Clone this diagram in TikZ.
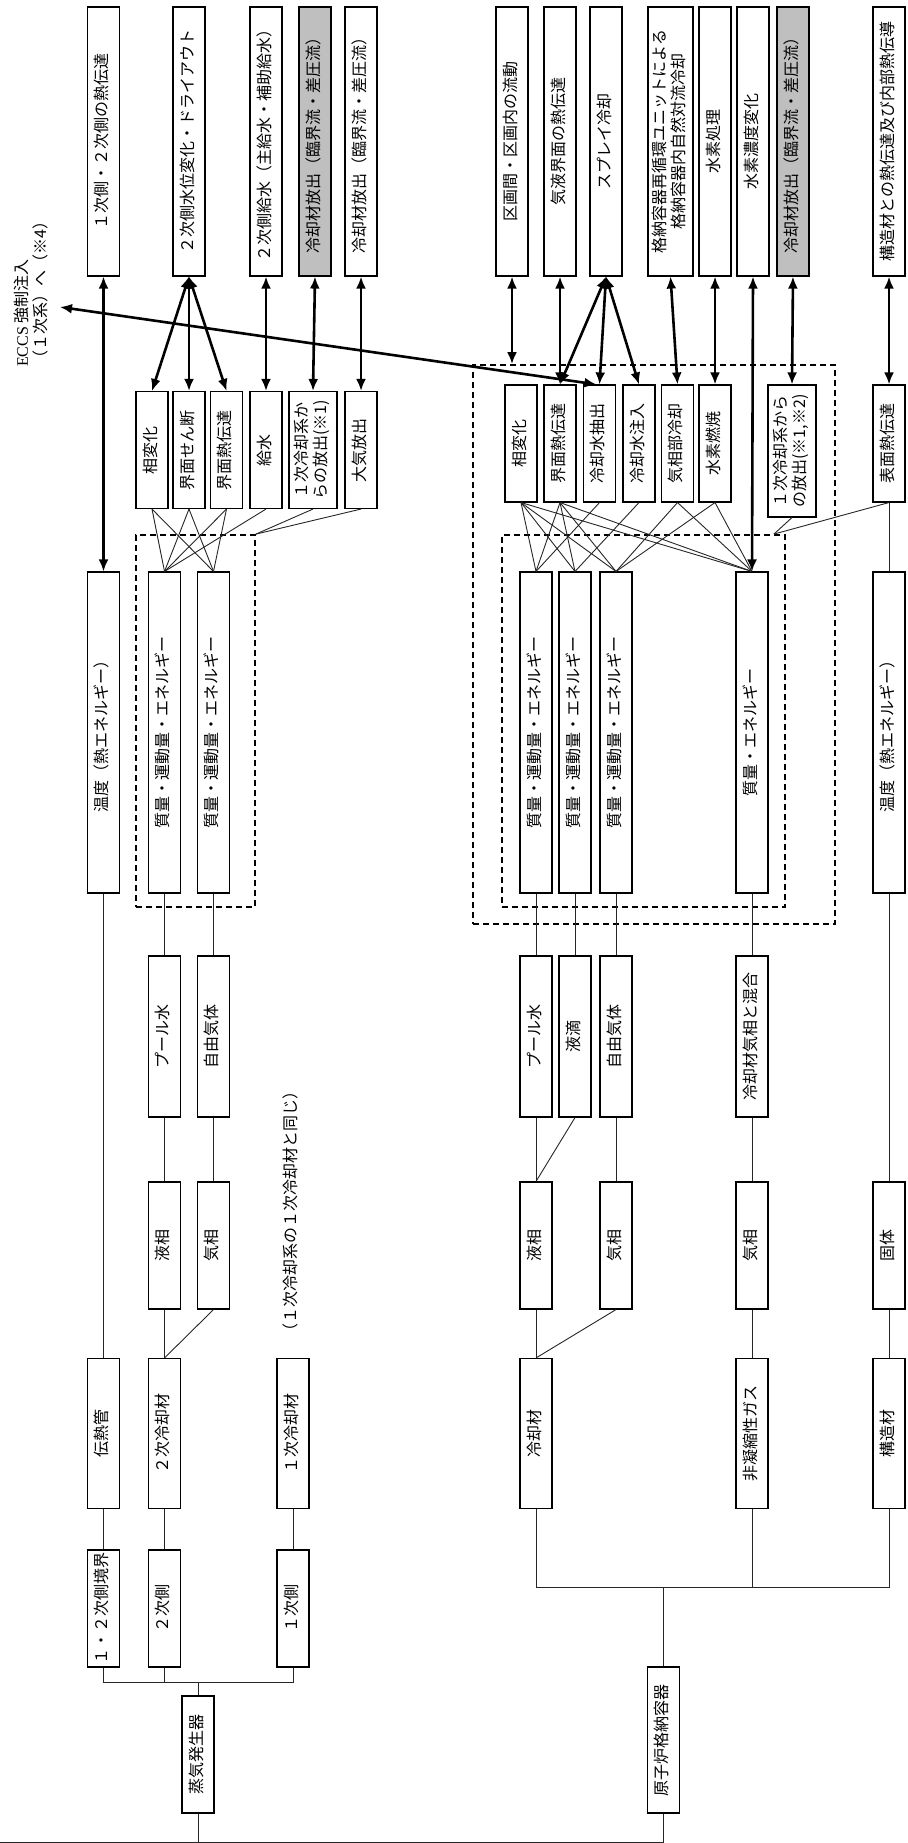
\documentclass[tikz,border=0pt]{standalone}
\usepackage{fontspec}
\setmainfont{Noto Sans CJK JP}
\newfontfamily\latinserif{Liberation Serif}
\usepackage{graphicx}
\usetikzlibrary{arrows.meta}

% text standing on its side, read from bottom to top
\newcommand{\vtext}[2][c]{\rotatebox{90}{\begin{tabular}{@{}#1@{}}#2\end{tabular}}}

\begin{document}
\begin{tikzpicture}[x=1pt,y=-1pt]
\tikzstyle{box} = [draw, line width=1.1pt, rectangle, fill=white, minimum width=32pt,
inner sep=0pt, font=\fontsize{16}{17}\selectfont]
\tikzstyle{shade} = [box, fill=black!25]
\tikzstyle{hTop} = [minimum height=269pt]
\tikzstyle{hProc} = [minimum height=117pt]
\tikzstyle{hLong} = [minimum height=321pt]
\tikzstyle{hMid} = [minimum height=161pt]
\tikzstyle{hPhase} = [minimum height=127pt]
\tikzstyle{hBase} = [minimum height=150pt]
\tikzstyle{hSide} = [minimum height=117pt]
\tikzstyle{dashbox} = [draw, line width=1.8pt, dash pattern=on 6pt off 4pt, inner sep=0pt]
\tikzstyle{link} = [draw, line width=0.9pt, black!85]
\tikzstyle{arr} = [draw, line width=2.6pt, {Latex[length=12pt,width=10pt]}-{Latex[length=12pt,width=10pt]}]
\useasboundingbox (0,0) rectangle (907,1843);

% groups
\node[dashbox, minimum width=119pt, minimum height=372pt] (grpL) at (195.5,721) {};
\node[dashbox, minimum width=362pt, minimum height=559pt] (grpOut) at (654,644.5) {};
\node[dashbox, minimum width=283pt, minimum height=372pt] (grpIn) at (643.5,721) {};

% row 1: phenomena, steam generator side
\node[box,hTop] (A1) at (103.5,141.5) {\vtext{１次側・２次側の熱伝達}};
\node[box,hTop] (A2) at (189,141.5) {\vtext{２次側水位変化・ドライアウト}};
\node[box,hTop] (A3) at (266,141.5) {\vtext{２次側給水（主給水・補助給水）}};
\node[shade,hTop] (A4) at (315,141.5) {\vtext{冷却材放出（臨界流・差圧流）}};
\node[box,hTop] (A5) at (361,141.5) {\vtext{冷却材放出（臨界流・差圧流）}};
% row 1: phenomena, containment side
\node[box,hTop] (B1) at (512,141.5) {\vtext{区画間・区画内の流動}};
\node[box,hTop] (B2) at (560,141.5) {\vtext{気液界面の熱伝達}};
\node[box,hTop] (B3) at (606,141.5) {\vtext{スプレイ冷却}};
\node[box,hTop,minimum width=45pt] (B4) at (670.5,141.5) {\vtext{格納容器再循環ユニットによる\\格納容器内自然対流冷却}};
\node[box,hTop] (B5) at (715,141.5) {\vtext{水素処理}};
\node[box,hTop] (B6) at (753,141.5) {\vtext{水素濃度変化}};
\node[shade,hTop] (B7) at (793,141.5) {\vtext{冷却材放出（臨界流・差圧流）}};
\node[box,hTop] (B8) at (889,141.5) {\vtext{構造材との熱伝達及び内部熱伝導}};

\node[inner sep=0pt, anchor=south, font=\fontsize{16}{17}\selectfont] (eccs) at (33,367) {\vtext[l]{{\latinserif ECCS} 強制注入\\（１次系）へ（※4）}};
\coordinate (eccsEnd) at (60,307);

% row 2: processes
\node[box,hProc] (L1) at (152,450) {\vtext{相変化}};
\node[box,hProc] (L2) at (189,450) {\vtext{界面せん断}};
\node[box,hProc] (L3) at (226.5,450) {\vtext{界面熱伝達}};
\node[box,hProc] (L4) at (266,450) {\vtext{給水}};
\node[box,hProc,minimum width=48pt] (L5) at (313,450) {\vtext{１次冷却系か\\らの放出(※1)}};
\node[box,hProc] (L6) at (361,450) {\vtext{大気放出}};
\node[box,hProc] (P1) at (521,443.5) {\vtext{相変化}};
\node[box,hProc] (P2) at (560,443.5) {\vtext{界面熱伝達}};
\node[box,hProc] (P3) at (599.5,443.5) {\vtext{冷却水抽出}};
\node[box,hProc] (P4) at (639,443.5) {\vtext{冷却水注入}};
\node[box,hProc] (P5) at (677.5,443.5) {\vtext{気相部冷却}};
\node[box,hProc] (P6) at (715,443.5) {\vtext{水素燃焼}};
\node[box,minimum width=48pt,minimum height=132pt] (P7) at (792,451) {\vtext{１次冷却系から\\の放出(※1,※2)}};
\node[box,hProc] (SH) at (889,443.5) {\vtext{表面熱伝達}};

% row 3: conserved quantities
\node[box,hLong] (T1) at (103.5,732.5) {\vtext{温度（熱エネルギー）}};
\node[box,hLong] (M1) at (164.5,732.5) {\vtext{質量・運動量・エネルギー}};
\node[box,hLong] (M2) at (213.5,732.5) {\vtext{質量・運動量・エネルギー}};
\node[box,hLong] (R1) at (536,732.5) {\vtext{質量・運動量・エネルギー}};
\node[box,hLong] (R2) at (575,732.5) {\vtext{質量・運動量・エネルギー}};
\node[box,hLong] (R3) at (616,732.5) {\vtext{質量・運動量・エネルギー}};
\node[box,hLong] (R4) at (752,732.5) {\vtext{質量・エネルギー}};
\node[box,hLong] (T2) at (889,732.5) {\vtext{温度（熱エネルギー）}};

% row 4
\node[box,hMid] (W1) at (164.5,1036.5) {\vtext{プール水}};
\node[box,hMid] (G1) at (213.5,1036.5) {\vtext{自由気体}};
\node[box,hMid] (W2) at (536,1036.5) {\vtext{プール水}};
\node[box,hMid] (D2) at (575,1036.5) {\vtext{液滴}};
\node[box,hMid] (G2) at (616,1036.5) {\vtext{自由気体}};
\node[box,hMid] (Mix) at (752,1036.5) {\vtext{冷却材気相と混合}};

% row 5
\node[box,hPhase] (Lq1) at (164.5,1245.5) {\vtext{液相}};
\node[box,hPhase] (Gp1) at (213.5,1245.5) {\vtext{気相}};
\node[inner sep=0pt, font=\fontsize{16}{17}\selectfont] (note) at (292,1211) {\vtext{（１次冷却系の１次冷却材と同じ）}};
\node[box,hPhase] (Lq2) at (536,1245.5) {\vtext{液相}};
\node[box,hPhase] (Gp2) at (616,1245.5) {\vtext{気相}};
\node[box,hPhase] (Gp3) at (752,1245.5) {\vtext{気相}};
\node[box,hPhase] (Solid) at (889,1245.5) {\vtext{固体}};

% row 6
\node[box,hBase] (Tube) at (103.5,1433.5) {\vtext{伝熱管}};
\node[box,hBase] (C2) at (164.5,1433.5) {\vtext{２次冷却材}};
\node[box,hBase] (C1) at (293,1433.5) {\vtext{１次冷却材}};
\node[box,hBase] (Cool) at (536,1433.5) {\vtext{冷却材}};
\node[box,hBase] (NCG) at (752,1433.5) {\vtext{非凝縮性ガス}};
\node[box,hBase] (Struct) at (889,1433.5) {\vtext{構造材}};

% row 7
\node[box,hSide] (S12) at (103.5,1608.5) {\vtext{１・２次側境界}};
\node[box,hSide] (S2) at (164.5,1608.5) {\vtext{２次側}};
\node[box,hSide] (S1) at (293,1608.5) {\vtext{１次側}};
\node[box,hSide] (SG) at (198,1754.5) {\vtext{蒸気発生器}};
\node[box,minimum height=146pt] (CV) at (663.5,1740) {\vtext{原子炉格納容器}};

% tree
\coordinate (sgBus) at (198,1682);
\coordinate (cvBus) at (663.5,1587);
\coordinate (base) at (0,1842);
\path[link] (S12.south) |- (sgBus) -| (S1.south);
\path[link] (S2.south) -- (S2.south |- sgBus);
\path[link] (sgBus) -- (SG.north);
\path[link] (Cool.south) |- (cvBus) -| (Struct.south);
\path[link] (NCG.south) -- (NCG.south |- cvBus);
\path[link] (cvBus) -- (CV.north);
\path[link] (CV.south) |- (base);
\path[link] (SG.south) -- (SG.south |- base);

\path[link] (Tube.south) -- (S12.north);
\path[link] (C2.south) -- (S2.north);
\path[link] (C1.south) -- (S1.north);
\path[link] (Lq1.south) -- (C2.north);
\path[link] (Gp1.south) -- (C2.north);
\path[link] (W1.south) -- (Lq1.north);
\path[link] (G1.south) -- (Gp1.north);
\path[link] (M1.south) -- (W1.north);
\path[link] (M2.south) -- (G1.north);
\path[link] (T1.south) -- (Tube.north);

\path[link] (Lq2.south) -- (Cool.north);
\path[link] (Gp2.south) -- (Cool.north);
\path[link] (Gp3.south) -- (NCG.north);
\path[link] (Solid.south) -- (Struct.north);
\path[link] (W2.south) -- (Lq2.north);
\path[link] (D2.south) -- (Lq2.north);
\path[link] (G2.south) -- (Gp2.north);
\path[link] (Mix.south) -- (Gp3.north);
\path[link] (R1.south) -- (W2.north);
\path[link] (R2.south) -- (D2.north);
\path[link] (R3.south) -- (G2.north);
\path[link] (R4.south) -- (Mix.north);
\path[link] (T2.south) -- (Solid.north);

% processes to quantities
\foreach \p in {L1,L2,L3} {
  \path[link] (\p.south) -- (M1.north);
  \path[link] (\p.south) -- (M2.north);
}
\path[link] (L4.south) -- (M1.north);
\path[link] (L5.south) -- (grpL.north east);
\path[link] (L6.south) -- (grpL.north east);
\foreach \p in {P1,P2} {
  \foreach \r in {R1,R2,R3,R4}
    \path[link] (\p.south) -- (\r.north);
}
\path[link] (P3.south) -- (R1.north);
\path[link] (P4.south) -- (R2.north);
\foreach \p in {P5,P6} {
  \path[link] (\p.south) -- (R3.north);
  \path[link] (\p.south) -- (R4.north);
}
\path[link] (P7.south) -- ([xshift=-12pt]grpIn.north east);
\path[link] (SH.south) -- ([xshift=-12pt]grpIn.north east);
\path[link] (SH.south) -- (T2.north);

% phenomena to processes
\path[arr] (A1.south) -- (T1.north);
\foreach \p in {L1,L2,L3}
  \path[arr] (A2.south) -- (\p.north);
\path[arr] (A3.south) -- (L4.north);
\path[arr] (A4.south) -- (L5.north);
\path[arr] (A5.south) -- (L6.north);
\path[arr] (B1.south) -- (B1.south |- grpOut.north);
\path[arr] (B2.south) -- (P2.north);
\foreach \p in {P2,P3,P4}
  \path[arr] (B3.south) -- (\p.north);
\path[arr] (B4.south) -- (P5.north);
\path[arr] (B5.south) -- (P6.north);
\path[arr] (B6.south) -- (R4.north);
\path[arr] (B7.south) -- (P7.north);
\path[arr] (B8.south) -- (SH.north);
\path[arr] (eccsEnd) -- ([xshift=-3pt]P3.north);

\end{tikzpicture}
\end{document}
